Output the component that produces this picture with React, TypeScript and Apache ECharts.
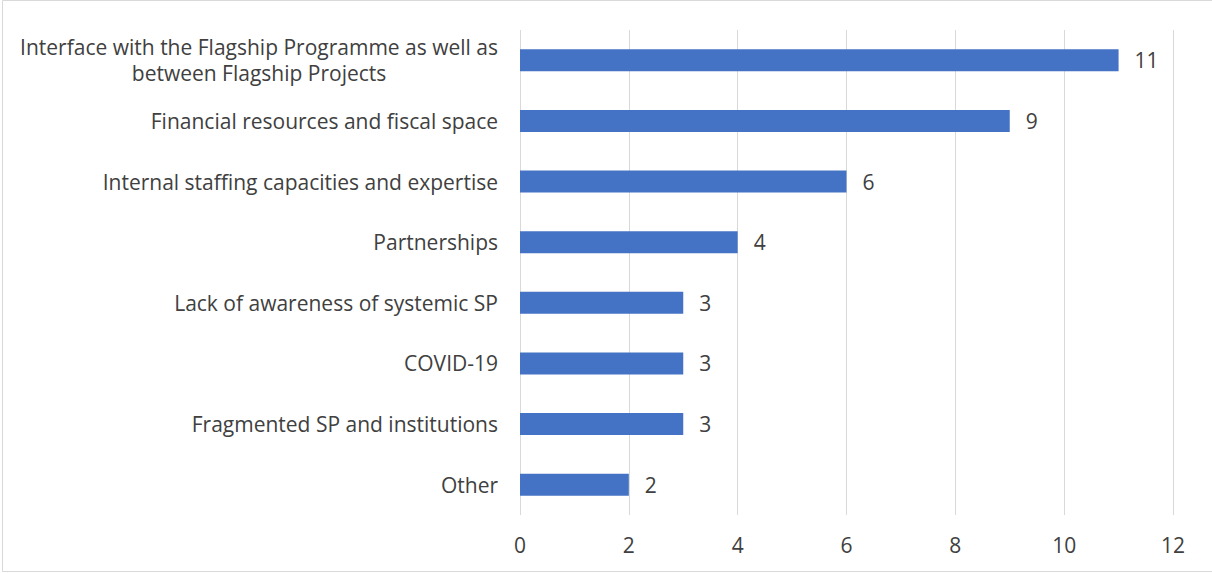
import React, { useEffect, useRef } from "react";
import * as echarts from "echarts";

const categories = [
  "Interface with the Flagship Programme as well as\nbetween Flagship Projects",
  "Financial resources and fiscal space",
  "Internal staffing capacities and expertise",
  "Partnerships",
  "Lack of awareness of systemic SP",
  "COVID-19",
  "Fragmented SP and institutions",
  "Other",
];
const values = [11, 9, 6, 4, 3, 3, 3, 2];
const xTicks = { min: 0, max: 12, interval: 2 };

const FONT = "'Open Sans', sans-serif";
const TEXT = "#404040";
const FS = 21;

export default function App() {
  const ref = useRef<HTMLDivElement>(null);
  useEffect(() => {
    document.body.style.margin = "0";
    const chart = echarts.init(ref.current!, undefined, { renderer: "svg" });
    chart.setOption({
      animation: false,
      backgroundColor: "#ffffff",
      grid: { left: 520, right: 39, top: 30, bottom: 58, containLabel: false },
      xAxis: {
        type: "value",
        min: xTicks.min,
        max: xTicks.max,
        interval: xTicks.interval,
        axisLine: { show: false },
        axisTick: { show: false },
        splitLine: { show: true, lineStyle: { color: "#d9d9d9", width: 1 } },
        axisLabel: { color: TEXT, fontFamily: FONT, fontSize: FS, margin: 19 },
      },
      yAxis: {
        type: "category",
        data: categories,
        inverse: true,
        axisLine: { show: false },
        axisTick: { show: false },
        axisLabel: {
          color: TEXT,
          fontFamily: FONT,
          fontSize: FS,
          margin: 22,
          lineHeight: 26,
          formatter: (v: string) =>
            v
              .split("\n")
              .map((s) => "{c|" + s + "}")
              .join("\n"),
          rich: {
            c: { align: "center", color: TEXT, fontFamily: FONT, fontSize: FS, lineHeight: 26 },
          },
        },
      },
      series: [
        {
          type: "bar",
          data: values,
          barWidth: 22,
          itemStyle: { color: "#4472C4" },
          label: {
            show: true,
            position: "right",
            distance: 16,
            color: TEXT,
            fontFamily: FONT,
            fontSize: FS,
          },
        },
      ],
      graphic: [
        {
          type: "rect",
          shape: { x: 2.5, y: 0.5, width: 1212, height: 571 },
          style: { fill: "none", stroke: "#d9d9d9", lineWidth: 1 },
          silent: true,
        },
      ],
    });
    return () => chart.dispose();
  }, []);
  return (
    <div
      ref={ref}
      style={{ position: "absolute", left: 0, top: 0, width: 1212, height: 573 }}
    />
  );
}
